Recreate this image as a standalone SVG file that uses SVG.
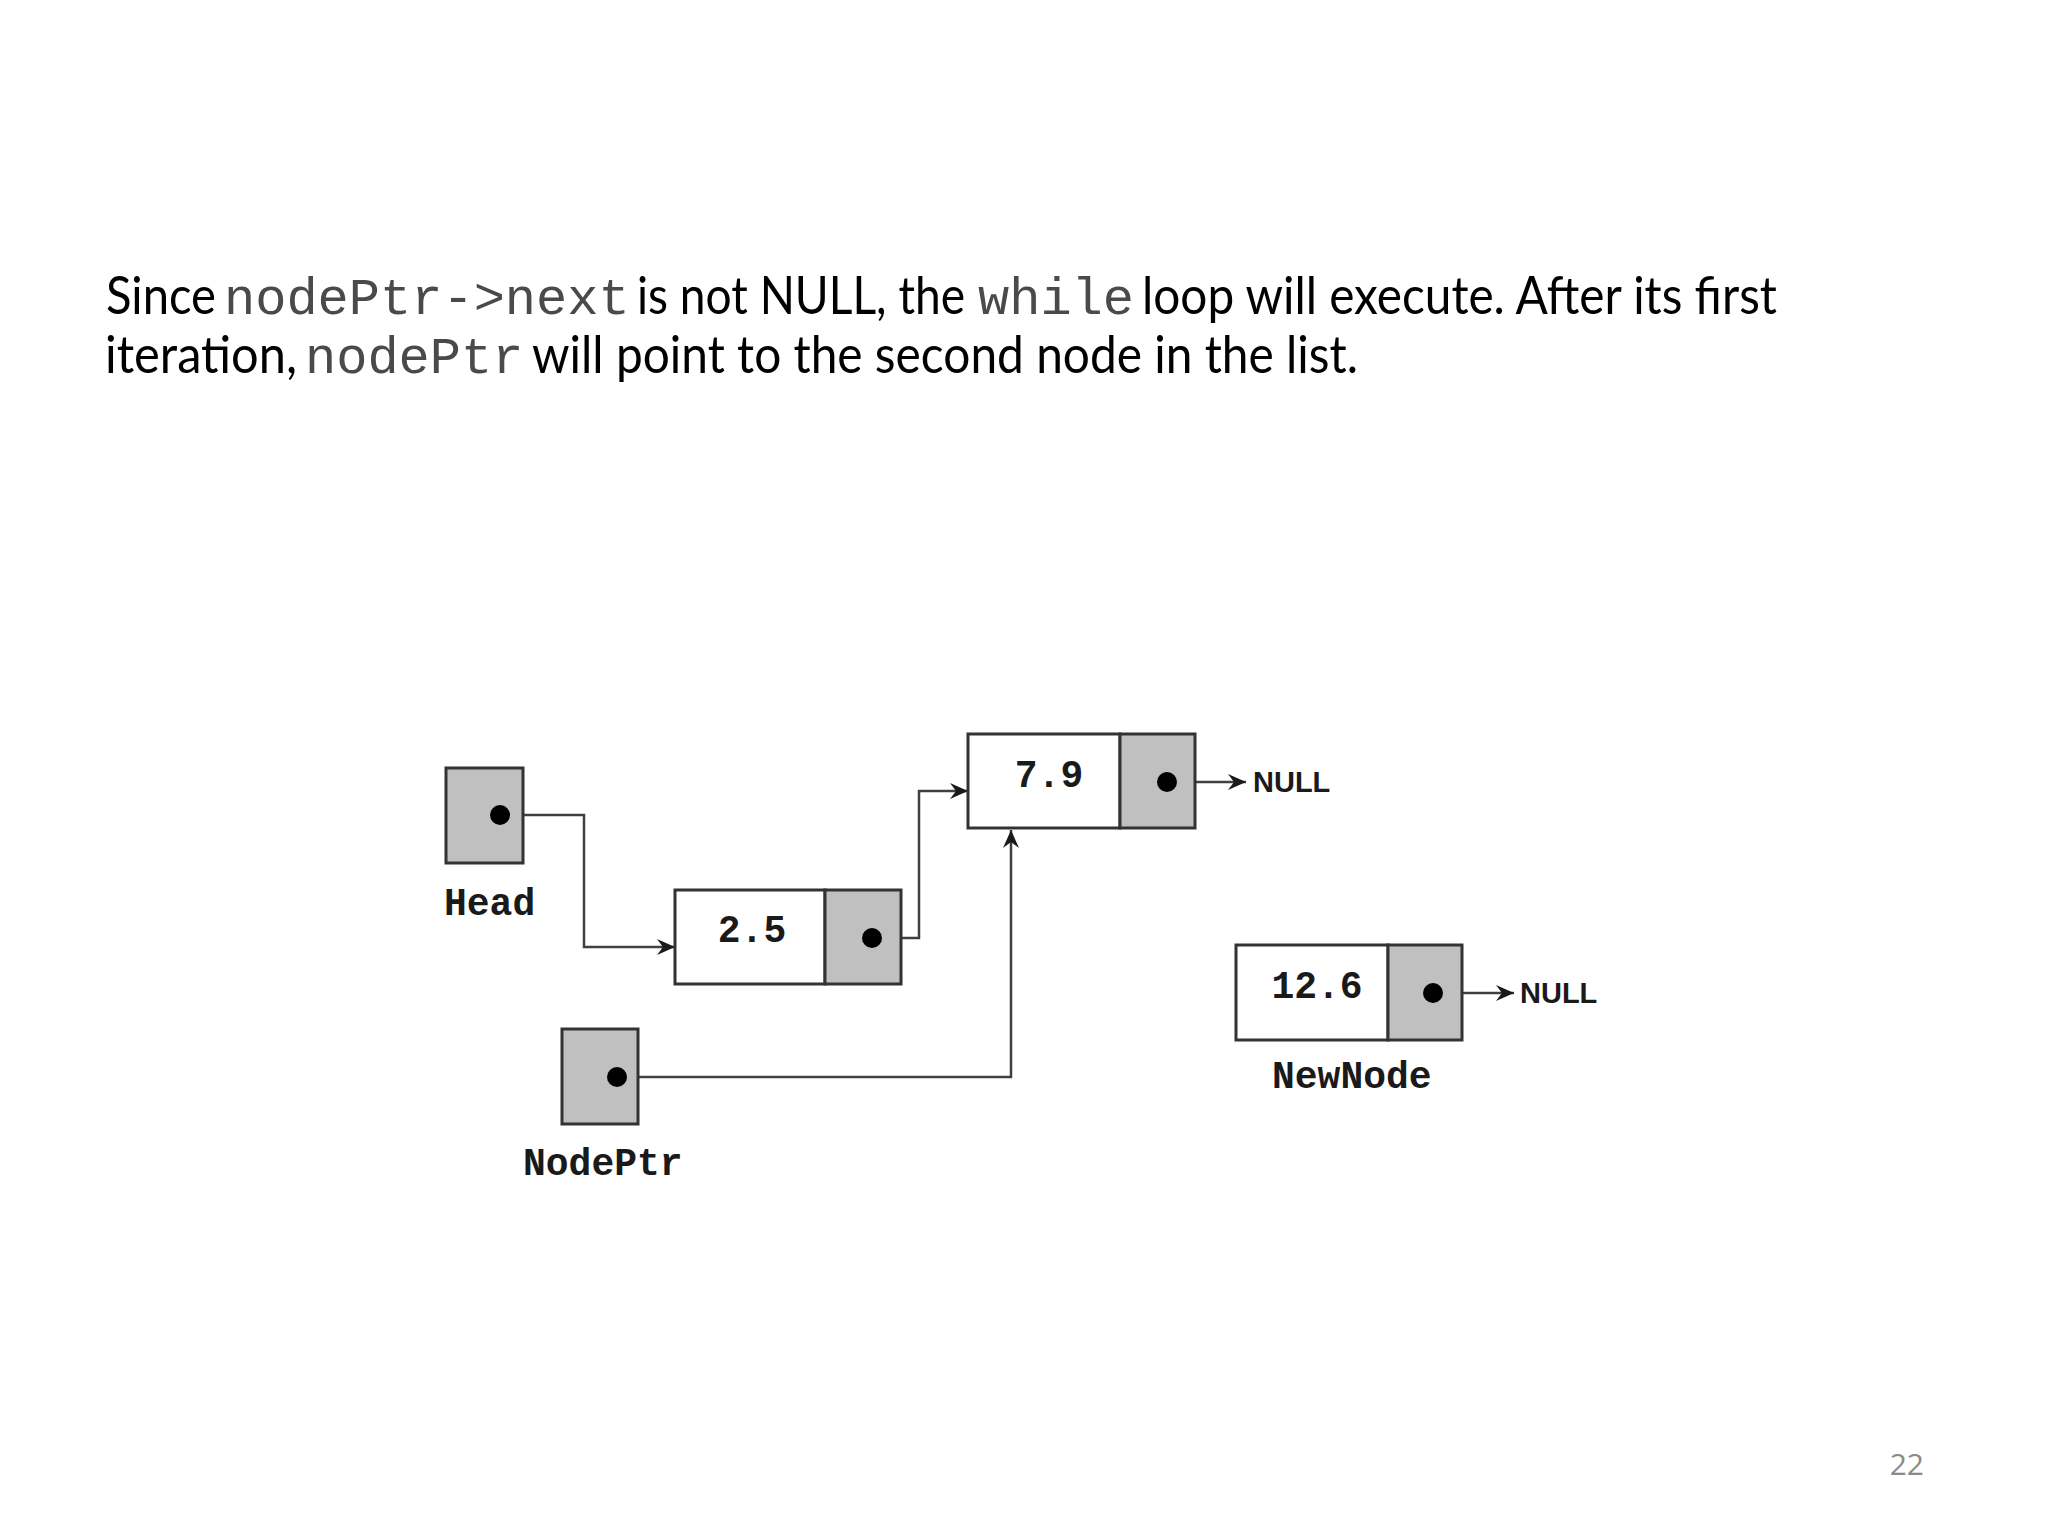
<svg xmlns="http://www.w3.org/2000/svg" width="2048" height="1536" viewBox="0 0 2048 1536">
<defs>
<style>
.body{font-family:Lato,"Open Sans","Liberation Sans",sans-serif;font-size:52px;fill:#000}
.code{font-family:"Liberation Mono","Courier New",monospace;font-size:52px;fill:#4a4a4a}
.lbl{font-family:"Liberation Mono","Courier New",monospace;font-size:38px;font-weight:bold;fill:#1a1a1a}
.null{font-family:"Liberation Sans",Arial,sans-serif;font-size:29px;font-weight:bold;fill:#1a1a1a}
.cell{fill:#fff;stroke:#333;stroke-width:3}
.ptr{fill:#c0c0c0;stroke:#333;stroke-width:3}
.dot{fill:#000}
.wire{fill:none;stroke:#404040;stroke-width:2.5}
.pg{font-family:"Open Sans","Liberation Sans",sans-serif;font-size:30px;fill:#8a8a8a}
</style>
<marker id="ah" viewBox="0 0 18 16" markerWidth="18" markerHeight="16" refX="18" refY="8" orient="auto" markerUnits="userSpaceOnUse">
<path d="M0,0 L18,8 L0,16 L6,8 Z" fill="#1a1a1a"/>
</marker>
</defs>
<rect width="2048" height="1536" fill="#fff"/>

<g id="caption">
<text class="body" x="106" y="314" textLength="110" lengthAdjust="spacingAndGlyphs">Since</text>
<text class="code" x="224" y="314">nodePtr-&gt;next</text>
<text class="body" x="637" y="314" textLength="328" lengthAdjust="spacingAndGlyphs">is not NULL, the</text>
<text class="code" x="978" y="314">while</text>
<text class="body" x="1142" y="314" textLength="635" lengthAdjust="spacingAndGlyphs">loop will execute. After its first</text>
<text class="body" x="105" y="373" textLength="192" lengthAdjust="spacingAndGlyphs">iteration,</text>
<text class="code" x="305" y="373">nodePtr</text>
<text class="body" x="532" y="373" textLength="826" lengthAdjust="spacingAndGlyphs">will point to the second node in the list.</text>
</g>

<g id="connectors">
<polyline class="wire" points="500,815 584,815 584,947 675,947" marker-end="url(#ah)"/>
<polyline class="wire" points="872,938 919,938 919,791 968,791" marker-end="url(#ah)"/>
<polyline class="wire" points="617,1077 1011,1077 1011,830" marker-end="url(#ah)"/>
<line class="wire" x1="1167" y1="782" x2="1246" y2="782" marker-end="url(#ah)"/>
<line class="wire" x1="1433" y1="993" x2="1514" y2="993" marker-end="url(#ah)"/>
</g>

<g id="head">
<rect class="ptr" x="446" y="768" width="77" height="95"/>
<circle class="dot" cx="500" cy="815" r="10"/>
<text class="lbl" x="444" y="915">Head</text>
</g>

<g id="node-2-5">
<rect class="cell" x="675" y="890" width="150" height="94"/>
<rect class="ptr" x="825" y="890" width="76" height="94"/>
<circle class="dot" cx="872" cy="938" r="10"/>
<text class="lbl" x="752" y="942" text-anchor="middle">2.5</text>
</g>

<g id="node-7-9">
<rect class="cell" x="968" y="734" width="152" height="94"/>
<rect class="ptr" x="1120" y="734" width="75" height="94"/>
<circle class="dot" cx="1167" cy="782" r="10"/>
<text class="lbl" x="1049" y="787" text-anchor="middle">7.9</text>
<text class="null" x="1253" y="792">NULL</text>
</g>

<g id="nodeptr">
<rect class="ptr" x="562" y="1029" width="76" height="95"/>
<circle class="dot" cx="617" cy="1077" r="10"/>
<text class="lbl" x="523" y="1175">NodePtr</text>
</g>

<g id="newnode">
<rect class="cell" x="1236" y="945" width="152" height="95"/>
<rect class="ptr" x="1388" y="945" width="74" height="95"/>
<circle class="dot" cx="1433" cy="993" r="10"/>
<text class="lbl" x="1317" y="998" text-anchor="middle">12.6</text>
<text class="null" x="1520" y="1003">NULL</text>
<text class="lbl" x="1272" y="1088">NewNode</text>
</g>

<text class="pg" x="1924" y="1475" text-anchor="end">22</text>
</svg>
